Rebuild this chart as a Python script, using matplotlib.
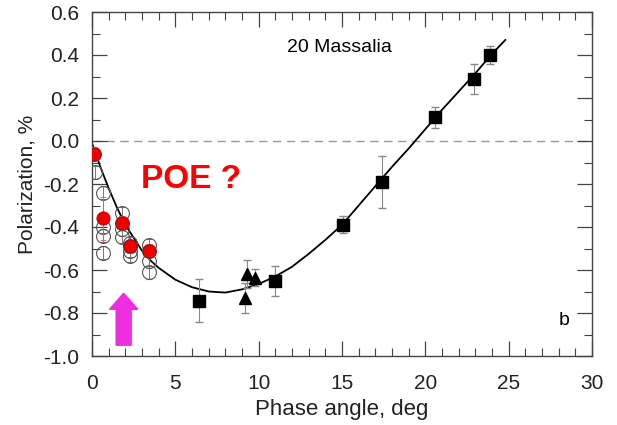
import matplotlib
matplotlib.use("Agg")
from matplotlib import pyplot as plt

plt.rcParams['font.family'] = ['Liberation Sans', 'DejaVu Sans']
plt.rcParams['axes.unicode_minus'] = False

# ---------------- data ----------------
sq_x = [6.43, 10.95, 15.06, 17.38, 20.6, 22.9, 23.9]
sq_y = [-0.744, -0.65, -0.39, -0.19, 0.11, 0.29, 0.40]
sq_err = [0.10, 0.07, 0.04, 0.12, 0.05, 0.07, 0.04]

tri_x = [9.3, 9.8, 9.2]
tri_y = [-0.62, -0.635, -0.73]
tri_err = [0.065, 0.04, 0.07]

red_x = [0.1, 0.65, 1.8, 2.25, 3.4]
red_y = [-0.06, -0.36, -0.38, -0.49, -0.51]
red_err = [0.03, 0.10, 0.03, 0.03, 0.03]

open_x = [0.1, 0.15, 0.65, 0.65, 0.65, 0.65, 1.8, 1.8, 1.8, 1.8,
          2.25, 2.25, 2.25, 2.25, 3.4, 3.4, 3.4, 3.4]
open_y = [-0.06, -0.145, -0.24, -0.40, -0.44, -0.52, -0.335, -0.38, -0.41, -0.445,
          -0.475, -0.49, -0.51, -0.535, -0.485, -0.51, -0.56, -0.61]
open_err = [0.03, 0.03, 0.03, 0.03, 0.03, 0.03, 0.03, 0.03, 0.03, 0.03,
            0.03, 0.03, 0.03, 0.03, 0.03, 0.03, 0.03, 0.03]

# fitted phase curve
curve_x = [0, 0.5, 1, 1.5, 2, 2.5, 3, 3.5, 4, 5, 6, 7, 8, 9, 10, 11, 12, 13,
           14, 15, 16, 17, 18, 19, 20, 21, 22, 23, 24, 24.8]
curve_y = [-0.01, -0.12, -0.22, -0.31, -0.39, -0.45, -0.51, -0.555, -0.59, -0.645,
           -0.68, -0.70, -0.705, -0.69, -0.665, -0.63, -0.585, -0.525, -0.46, -0.39,
           -0.30, -0.21, -0.12, -0.035, 0.055, 0.145, 0.23, 0.315, 0.405, 0.47]

x_ticks = [0, 5, 10, 15, 20, 25, 30]
y_ticks = [0.6, 0.4, 0.2, 0.0, -0.2, -0.4, -0.6, -0.8, -1.0]

# ---------------- plot ----------------
fig = plt.figure(figsize=(6.17, 4.25), dpi=100)
ax = fig.add_axes([92 / 617., 69 / 425., 500 / 617., 344 / 425.])

ax.axhline(0, color='#999999', lw=1, ls=(0, (6, 4)), zorder=1)
ax.plot(curve_x, curve_y, color='black', lw=1.3, zorder=2)

ax.errorbar(open_x, open_y, yerr=open_err, fmt='o', ms=10, mfc='none', mec='#555555',
            mew=0.8, ecolor='#777777', elinewidth=0.7, capsize=2.5, zorder=3)
ax.errorbar(red_x, red_y, yerr=red_err, fmt='o', ms=9.5, mfc='#ee0000', mec='#aa0000',
            mew=0.6, ecolor='#e06060', elinewidth=0.8, capsize=2.5, zorder=4)
ax.errorbar(sq_x, sq_y, yerr=sq_err, fmt='s', ms=8, color='black',
            ecolor='#888888', elinewidth=0.8, capsize=3, zorder=4)
ax.errorbar(tri_x, tri_y, yerr=tri_err, fmt='^', ms=8.5, color='black',
            ecolor='#888888', elinewidth=0.8, capsize=3, zorder=4)

ax.arrow(1.9, -0.95, 0, 0.242, width=0.9, head_width=1.7, head_length=0.075,
         length_includes_head=True, color='#ee2ee0', zorder=5)

ax.text(2.95, -0.18, 'POE ?', color='#ff0000', fontsize=24, fontweight='bold',
        ha='left', va='center')
ax.text(11.7, 0.435, '20 Massalia', fontsize=14, ha='left', va='center')
ax.text(28.0, -0.835, 'b', fontsize=14, ha='left', va='center')

ax.set_xlim(0, 30)
ax.set_ylim(-1.0, 0.6)
ax.set_xticks(x_ticks)
ax.set_yticks(y_ticks)
ax.set_yticklabels(['%.1f' % v for v in y_ticks])
ax.set_xticks(range(0, 31), minor=True)
ax.set_yticks([i / 10. for i in range(-10, 7)], minor=True)
ax.tick_params(which='both', direction='in', top=True, right=True,
               labelsize=15, color='#444444', labelcolor='#222222')
ax.tick_params(axis='x', which='major', pad=13)
ax.tick_params(axis='y', which='major', pad=9)
ax.tick_params(which='major', length=11, width=0.9)
ax.tick_params(which='minor', length=5.5, width=0.8)
for s in ax.spines.values():
    s.set_color('#444444')
    s.set_linewidth(1)

ax.set_xlabel('Phase angle, deg', fontsize=16, labelpad=4, color='#222222')
ax.set_ylabel('Polarization, %', fontsize=15, labelpad=5, color='#222222')

fig.savefig('out.png', dpi=100)
